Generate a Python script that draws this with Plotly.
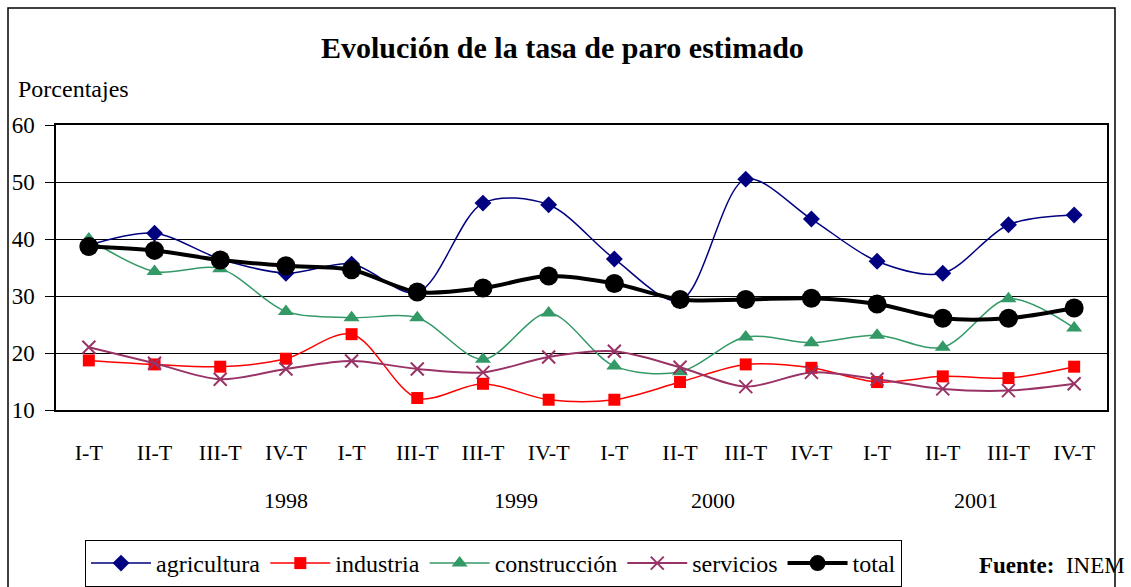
import plotly.graph_objects as go

categories = ["I-T", "II-T", "III-T", "IV-T", "I-T", "III-T", "III-T", "IV-T",
              "I-T", "II-T", "III-T", "IV-T", "I-T", "II-T", "III-T", "IV-T"]
years = ["1998", "1999", "2000", "2001"]
year_pos = [3, 6.5, 9.5, 13.5]

agricultura = [38.9, 41.0, 36.5, 34.0, 35.6, 30.6, 46.3, 46.0, 36.5, 29.2, 50.5, 43.5, 36.1, 34.0, 42.5, 44.2]
industria = [18.7, 18.0, 17.6, 19.0, 23.3, 12.1, 14.6, 11.8, 11.8, 14.9, 18.0, 17.4, 14.9, 15.9, 15.6, 17.6]
construccion = [40.0, 34.3, 34.8, 27.3, 26.2, 26.2, 18.9, 27.0, 17.7, 16.7, 22.8, 21.8, 23.1, 21.0, 29.5, 24.4]
servicios = [21.0, 18.2, 15.4, 17.2, 18.6, 17.2, 16.6, 19.3, 20.3, 17.5, 14.1, 16.6, 15.4, 13.7, 13.4, 14.6]
total = [38.7, 38.0, 36.3, 35.3, 34.6, 30.7, 31.4, 33.5, 32.2, 29.4, 29.4, 29.6, 28.6, 26.1, 26.1, 27.9]

W, H = 1131, 587
L, R, T, B = 56, 1107, 125, 410


def px(x):
    return (x - L) / (R - L)


def py(y):
    return (B - y) / (B - T)


xs = list(range(len(categories)))
FONT = "Liberation Serif, Times New Roman, serif"

series = [
    ("agricultura", agricultura, "#000080", 1.5, dict(symbol="diamond", size=13, color="#000080")),
    ("industria", industria, "#FF0000", 1.5, dict(symbol="square", size=12, color="#FF0000")),
    ("construcción", construccion, "#339966", 1.5, dict(symbol="triangle-up", size=14, color="#339966")),
    ("servicios", servicios, "#993366", 2, dict(symbol="x-thin-open", size=13, color="#993366",
                                                 line=dict(width=2, color="#993366"))),
    ("total", total, "#000000", 4, dict(symbol="circle", size=19, color="#000000")),
]

fig = go.Figure()
for name, vals, color, lw, mk in series:
    fig.add_trace(go.Scatter(
        x=xs, y=vals, name=name, mode="lines+markers",
        line=dict(color=color, width=lw, shape="spline", smoothing=0.9),
        marker=mk,
    ))

fig.update_layout(
    width=W, height=H,
    margin=dict(l=L, r=W - R, t=T, b=H - B),
    paper_bgcolor="white", plot_bgcolor="white",
    font=dict(family=FONT, size=22, color="black"),
    showlegend=True,
    legend=dict(orientation="h", xref="container", yref="container",
                x=85 / W, y=(H - 540) / H, xanchor="left", yanchor="top",
                font=dict(family=FONT, size=24, color="black"),
                bordercolor="black", borderwidth=1, bgcolor="white",
                itemwidth=60, tracegroupgap=0),
)

fig.update_xaxes(
    range=[-0.5, 15.5], tickmode="array", tickvals=xs, ticktext=categories,
    showgrid=False, zeroline=False, showline=True, linecolor="black", linewidth=1.5,
    mirror=True, ticks="", ticklabelstandoff=22,
    tickfont=dict(family=FONT, size=22, color="black"),
)
fig.update_yaxes(
    range=[10, 60], tickmode="array", tickvals=[10, 20, 30, 40, 50, 60],
    showgrid=True, gridcolor="black", gridwidth=1, zeroline=False,
    showline=True, linecolor="black", linewidth=1.5, mirror=True,
    ticks="outside", ticklen=9, tickcolor="black", ticklabelstandoff=6,
    tickfont=dict(family=FONT, size=23, color="black"),
)

# Outer chart border
fig.add_shape(type="rect", xref="paper", yref="paper",
              x0=px(8), x1=px(1115), y0=py(620), y1=py(8),
              line=dict(color="black", width=1.5), fillcolor="rgba(0,0,0,0)", layer="below")

annotations = [
    dict(text="<b>Evolución de la tasa de paro estimado</b>", x=px(562), y=py(47),
         xref="paper", yref="paper", showarrow=False, xanchor="center", yanchor="middle",
         font=dict(family=FONT, size=30, color="black")),
    dict(text="Porcentajes", x=px(16), y=py(89), xref="paper", yref="paper",
         showarrow=False, xanchor="left", yanchor="middle",
         font=dict(family=FONT, size=24, color="black")),
    dict(text="<b>Fuente:</b>  INEM", x=px(1127), y=py(565), xref="paper", yref="paper",
         showarrow=False, xanchor="right", yanchor="middle",
         font=dict(family=FONT, size=23, color="black")),
]
for yr, pos in zip(years, year_pos):
    annotations.append(dict(text=yr, x=pos, y=py(500), xref="x", yref="paper",
                            showarrow=False, xanchor="center", yanchor="middle",
                            font=dict(family=FONT, size=22, color="black")))
fig.update_layout(annotations=annotations)

fig.write_html("out.html", config={"displayModeBar": False},
               post_script="document.body.style.margin='0';")
